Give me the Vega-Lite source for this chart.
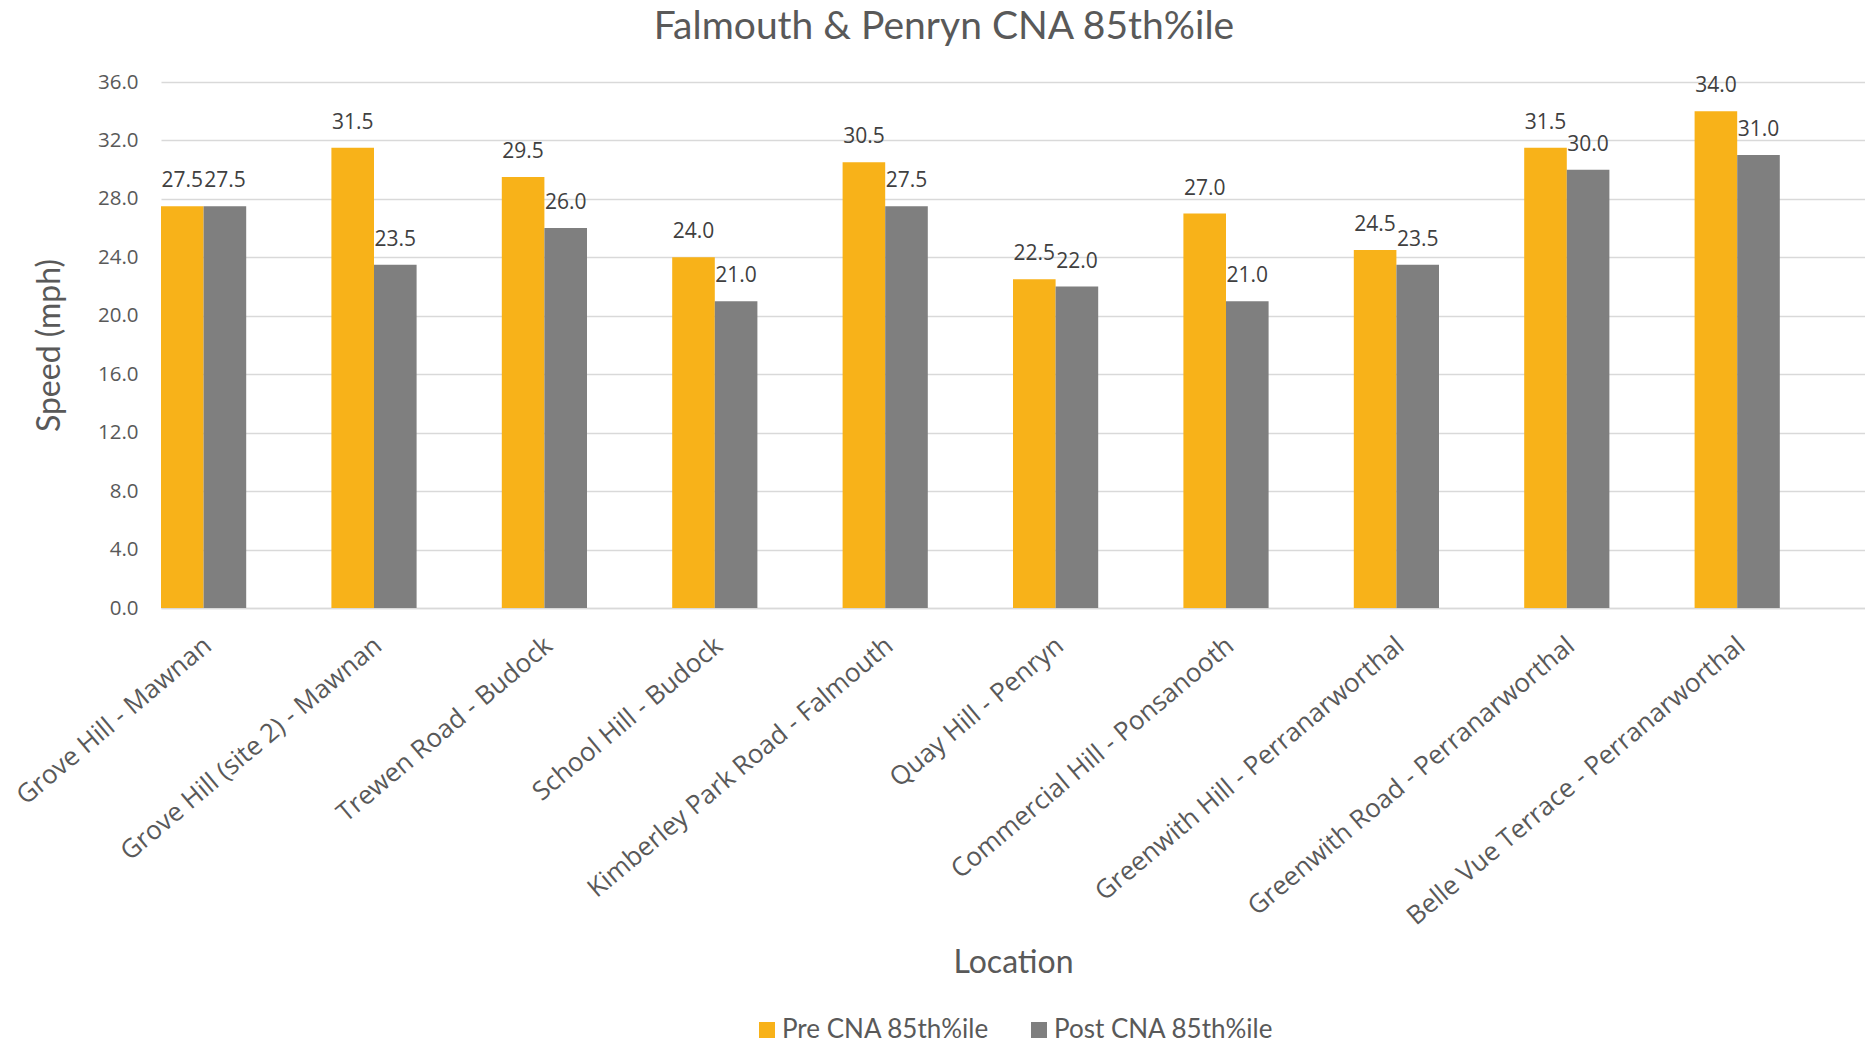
{
  "$schema": "https://vega.github.io/schema/vega-lite/v6.json",
  "autosize": {"type": "none"},
  "padding": {"left": 161, "top": 82, "right": 0, "bottom": 441},
  "width": 1704,
  "height": 526,
  "background": "white",
  "title": {
    "text": "Falmouth & Penryn CNA 85th%ile",
    "font": "Lato",
    "fontSize": 39,
    "fontWeight": "normal",
    "color": "#595959",
    "anchor": "middle",
    "baseline": "alphabetic",
    "offset": -6,
    "dx": -69
  },
  "data": {
    "values": [
      {"location": "Grove Hill - Mawnan", "series": "Pre CNA 85th%ile", "speed": 27.5},
      {"location": "Grove Hill - Mawnan", "series": "Post CNA 85th%ile", "speed": 27.5},
      {"location": "Grove Hill (site 2) - Mawnan", "series": "Pre CNA 85th%ile", "speed": 31.5},
      {"location": "Grove Hill (site 2) - Mawnan", "series": "Post CNA 85th%ile", "speed": 23.5},
      {"location": "Trewen Road - Budock", "series": "Pre CNA 85th%ile", "speed": 29.5},
      {"location": "Trewen Road - Budock", "series": "Post CNA 85th%ile", "speed": 26.0},
      {"location": "School Hill - Budock", "series": "Pre CNA 85th%ile", "speed": 24.0},
      {"location": "School Hill - Budock", "series": "Post CNA 85th%ile", "speed": 21.0},
      {"location": "Kimberley Park Road - Falmouth", "series": "Pre CNA 85th%ile", "speed": 30.5},
      {"location": "Kimberley Park Road - Falmouth", "series": "Post CNA 85th%ile", "speed": 27.5},
      {"location": "Quay Hill - Penryn", "series": "Pre CNA 85th%ile", "speed": 22.5},
      {"location": "Quay Hill - Penryn", "series": "Post CNA 85th%ile", "speed": 22.0},
      {"location": "Commercial Hill - Ponsanooth", "series": "Pre CNA 85th%ile", "speed": 27.0},
      {"location": "Commercial Hill - Ponsanooth", "series": "Post CNA 85th%ile", "speed": 21.0},
      {"location": "Greenwith Hill - Perranarworthal", "series": "Pre CNA 85th%ile", "speed": 24.5},
      {"location": "Greenwith Hill - Perranarworthal", "series": "Post CNA 85th%ile", "speed": 23.5},
      {"location": "Greenwith Road - Perranarworthal", "series": "Pre CNA 85th%ile", "speed": 31.5},
      {"location": "Greenwith Road - Perranarworthal", "series": "Post CNA 85th%ile", "speed": 30.0},
      {"location": "Belle Vue Terrace - Perranarworthal", "series": "Pre CNA 85th%ile", "speed": 34.0},
      {"location": "Belle Vue Terrace - Perranarworthal", "series": "Post CNA 85th%ile", "speed": 31.0}
    ]
  },
  "encoding": {
    "x": {
      "field": "location",
      "type": "nominal",
      "sort": null,
      "scale": {"paddingInner": 0.5, "paddingOuter": 0.25, "align": 0},
      "axis": {
        "title": "Location",
        "titleFont": "Lato",
        "titleFontSize": 32,
        "titleFontWeight": "normal",
        "titleColor": "#595959",
        "titleBaseline": "alphabetic",
        "titleAlign": "center",
        "titleX": 852,
        "titleY": 364,
        "labelFont": "Open Sans",
        "labelFontSize": 26,
        "labelColor": "#595959",
        "labelAngle": -40,
        "labelAlign": "right",
        "labelBaseline": "top",
        "labelPadding": 24,
        "labelOffset": -4,
        "labelLimit": 0,
        "labelOverlap": false,
        "ticks": false,
        "tickSize": 0,
        "grid": false,
        "domain": true,
        "domainColor": "#D9D9D9",
        "domainWidth": 1.5
      }
    },
    "xOffset": {
      "field": "series",
      "type": "nominal",
      "sort": ["Pre CNA 85th%ile", "Post CNA 85th%ile"],
      "scale": {"paddingInner": 0, "paddingOuter": 0}
    },
    "y": {
      "field": "speed",
      "type": "quantitative",
      "scale": {"domain": [0, 36], "nice": false},
      "axis": {
        "title": "Speed (mph)",
        "titleFont": "Lato",
        "titleFontSize": 32,
        "titleFontWeight": "normal",
        "titleColor": "#595959",
        "titleAngle": -90,
        "titleBaseline": "alphabetic",
        "titleAlign": "center",
        "titleX": -102,
        "titleY": 263,
        "values": [0, 4, 8, 12, 16, 20, 24, 28, 32, 36],
        "format": ".1f",
        "labelFont": "Open Sans",
        "labelFontSize": 20.5,
        "labelColor": "#595959",
        "labelPadding": 23,
        "ticks": false,
        "tickSize": 0,
        "domain": false,
        "grid": true,
        "gridColor": "#D9D9D9",
        "gridWidth": 1.5
      }
    }
  },
  "layer": [
    {
      "mark": {"type": "bar"},
      "encoding": {
        "color": {
          "field": "series",
          "type": "nominal",
          "scale": {
            "domain": ["Pre CNA 85th%ile", "Post CNA 85th%ile"],
            "range": ["#F8B219", "#7F7F7F"]
          },
          "legend": {
            "title": null,
            "orient": "none",
            "direction": "horizontal",
            "legendX": 593,
            "legendY": 935,
            "symbolType": "square",
            "symbolSize": 256,
            "symbolStrokeWidth": 0,
            "labelFont": "Lato",
            "labelFontSize": 26,
            "labelColor": "#595959",
            "labelOffset": 2,
            "labelLimit": 500,
            "columnPadding": 36,
            "padding": 0
          }
        }
      }
    },
    {
      "mark": {
        "type": "text",
        "font": "Open Sans",
        "fontSize": 21,
        "color": "#404040",
        "baseline": "alphabetic",
        "align": "center",
        "dy": -19
      },
      "encoding": {
        "text": {"field": "speed", "type": "quantitative", "format": ".1f"}
      }
    }
  ],
  "config": {
    "view": {"stroke": null}
  }
}
